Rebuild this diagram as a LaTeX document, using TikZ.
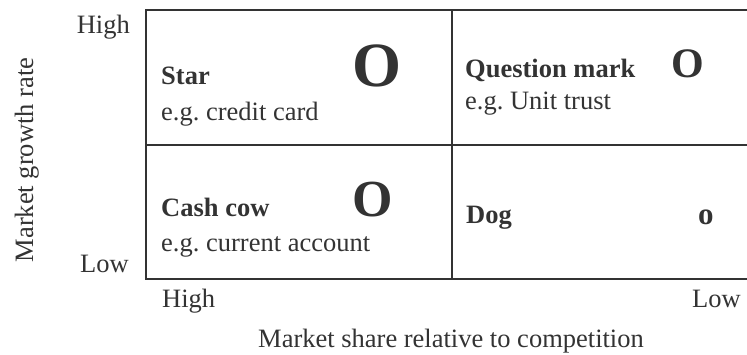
\documentclass[tikz,border=0pt]{standalone}
\usepackage{fontspec}
\setmainfont{Liberation Serif}
\definecolor{ink}{HTML}{333333}
\begin{document}
\begin{tikzpicture}[x=1pt,y=-1pt,
  lbl/.style={inner sep=0pt, text=ink, font=\fontsize{26.5}{30}\selectfont\frenchspacing},
  blbl/.style={inner sep=0pt, text=ink, font=\fontsize{26.5}{30}\selectfont\bfseries},
  bigo/.style={inner sep=0pt, text=ink, font=\fontsize{#1}{#1}\selectfont\bfseries},
  frameline/.style={draw=ink, line width=2.6pt}]
\useasboundingbox (0,0) rectangle (747,355);
% frame
\coordinate (tl) at (146,10);
\coordinate (tr) at (749,10);
\coordinate (ml) at (146,145);
\coordinate (mr) at (749,145);
\coordinate (bl) at (146,279);
\coordinate (br) at (749,279);
\coordinate (mt) at (452,10);
\coordinate (mb) at (452,279);
\draw[frameline] (tr) -- (tl) -- (bl) -- (br);
\draw[frameline] (ml) -- (mr);
\draw[frameline] (mt) -- (mb);
% cells
\node[blbl, anchor=base west] (star) at (161,85) {Star};
\node[lbl, anchor=base west] (stareg) at (161,121) {e.g. credit card};
\node[bigo=63, anchor=base west] (staro) at (352,87) {O};
\node[blbl, anchor=base west] (qm) at (465,78) {Question mark};
\node[lbl, anchor=base west] (qmeg) at (465,110) {e.g. Unit trust};
\node[bigo=42, anchor=base west] (qmo) at (671,78) {O};
\node[blbl, anchor=base west] (cow) at (161,217) {Cash cow};
\node[lbl, anchor=base west] (coweg) at (161,252) {e.g. current account};
\node[bigo=52, anchor=base west] (cowo) at (352,217) {O};
\node[blbl, anchor=base west] (dog) at (466,224) {Dog};
\node[bigo=31, anchor=base west] (dogo) at (698,225) {o};
% axes
\node[lbl, anchor=base east] (yhigh) at (130,34) {High};
\node[lbl, anchor=base east] (ylow) at (129,273) {Low};
\node[lbl, rotate=90, anchor=base] (ylab) at (33,160) {Market growth rate};
\node[lbl, anchor=base west] (xhigh) at (162,308) {High};
\node[lbl, anchor=base east] (xlow) at (741,308) {Low};
\node[lbl, anchor=base west] (xlab) at (258,347) {Market share relative to competition};
\end{tikzpicture}
\end{document}
